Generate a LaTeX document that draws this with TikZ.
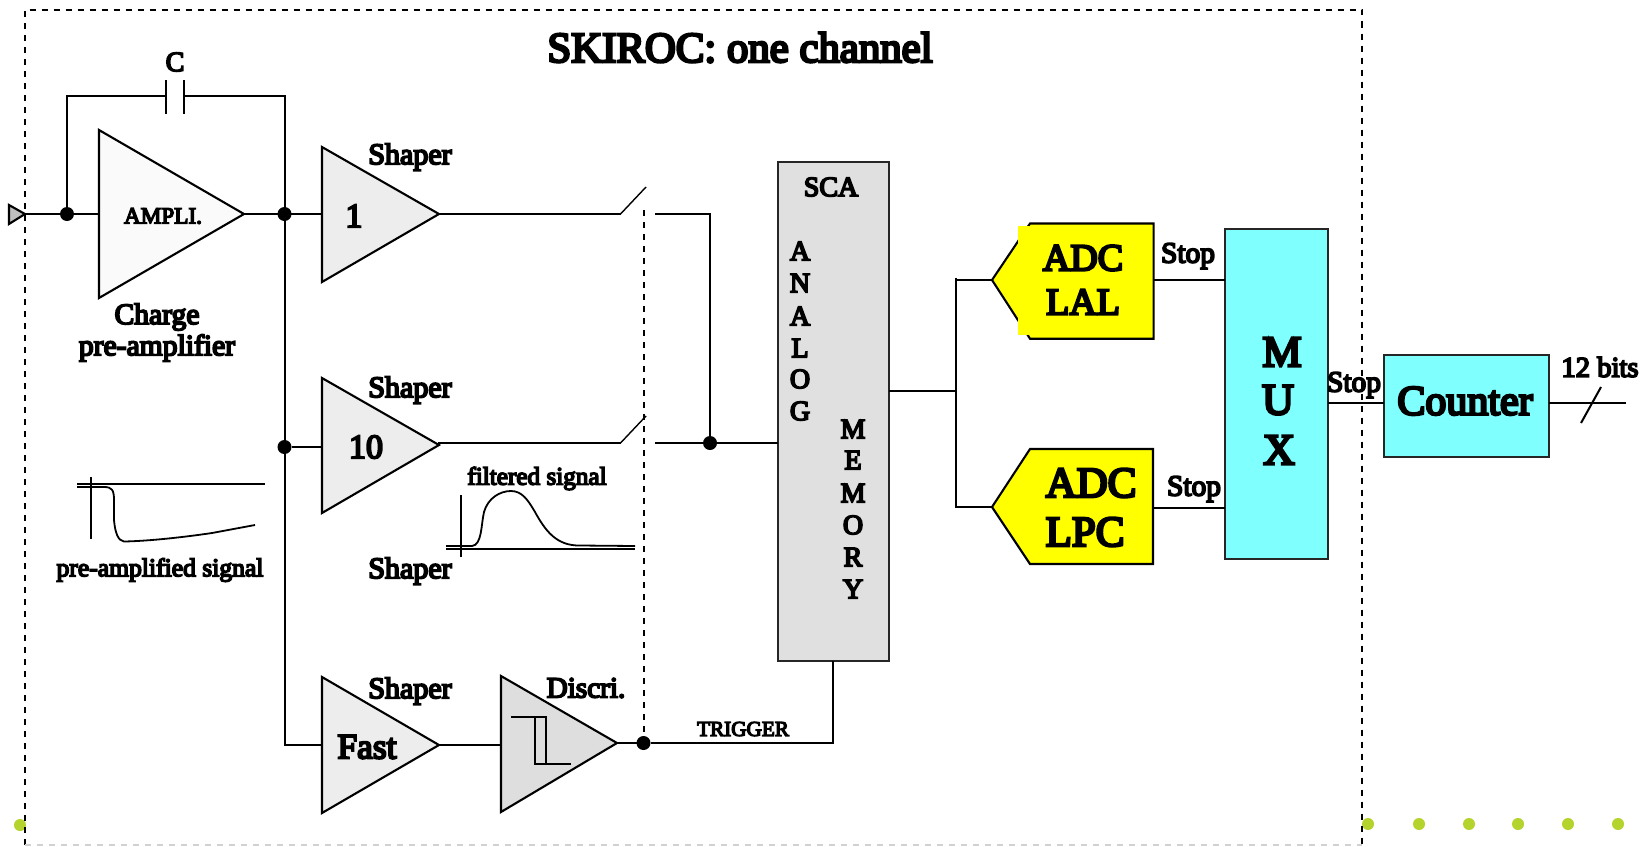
\documentclass[tikz,border=0pt]{standalone}
\usepackage{fontspec}
\setmainfont{Liberation Serif}
\newfontfamily\lbl{Liberation Serif}[RawFeature={embolden=6}]
\newcommand{\fs}[1]{\lbl\fontsize{#1}{#1}\selectfont}
\tikzset{
  x=0.5pt,y=-0.5pt,
  wire/.style={draw=black,line width=1pt,line join=miter},
  frameline/.style={draw=black,line width=1pt,dash pattern=on 3pt off 3pt},
  tri/.style={draw=black,line width=1.05pt,line join=miter},
  dotn/.style={circle,fill=black,inner sep=0pt,minimum size=7pt,outer sep=0pt},
  box/.style={draw=black!85,line width=1pt,inner sep=0pt,outer sep=0pt},
  lab/.style={inner sep=0pt,outer sep=0pt,text=black},
  pagedot/.style={circle,fill=dotgreen,inner sep=0pt,minimum size=6pt},
}
\definecolor{dotgreen}{HTML}{B4D32C}
\definecolor{adcyellow}{HTML}{FFFF00}
\definecolor{muxcyan}{HTML}{80FFFF}
\begin{document}
\begin{tikzpicture}
\useasboundingbox (0,0) rectangle (1652,846);
\fill[white] (0,0) rectangle (1652,846);
% slide dots
\node[pagedot] (pd0) at (20,825) {};
\node[pagedot] (pd1) at (1368,824) {};
\node[pagedot] (pd2) at (1419,824) {};
\node[pagedot] (pd3) at (1469,824) {};
\node[pagedot] (pd4) at (1518,824) {};
\node[pagedot] (pd5) at (1568,824) {};
\node[pagedot] (pd6) at (1618,824) {};
% frame
\coordinate (fTL) at (24.5,10);
\coordinate (fTR) at (1362,10);
\coordinate (fBR) at (1362,845);
\coordinate (fBL) at (24.5,845);
\draw[frameline] (fBL) -- (fTL) -- (fTR) -- (fBR);
\draw[draw=black!18,line width=0.7pt,dash pattern=on 3pt off 3pt] (fBL) -- (fBR);
% triangle vertices
\coordinate (inA) at (9,205); \coordinate (inB) at (9,224); \coordinate (inT) at (25,214);
\coordinate (ampA) at (99,130); \coordinate (ampB) at (99,298); \coordinate (ampT) at (244,214);
\coordinate (ampI) at (99,214);
\coordinate (s1A) at (322,147); \coordinate (s1B) at (322,282); \coordinate (s1T) at (439,214);
\coordinate (s1I) at (322,214);
\coordinate (s2A) at (322,378); \coordinate (s2B) at (322,513); \coordinate (s2T) at (439,445);
\coordinate (s2I) at (322,447);
\coordinate (s3A) at (322,677); \coordinate (s3B) at (322,813); \coordinate (s3T) at (439,745);
\coordinate (s3I) at (322,745);
\coordinate (dA) at (501,676); \coordinate (dB) at (501,812); \coordinate (dT) at (617,743);
\coordinate (dI) at (501,745);
\node[dotn] (jIn) at (67,214) {};
\node[dotn] (jOut) at (284.5,214) {};
\node[dotn] (jS2) at (284.5,447) {};
\node[dotn] (jD) at (643.5,743) {};
\node[dotn] (jM) at (710,443) {};
% feedback and capacitor
\coordinate (fbL) at (67,96); \coordinate (capL) at (166,96); \coordinate (capR) at (184,96);
\coordinate (fbR) at (284.5,96); \coordinate (fbB) at (284.5,745);
\coordinate (capLa) at (166,80); \coordinate (capLb) at (166,114);
\coordinate (capRa) at (184,80); \coordinate (capRb) at (184,114);
\draw[wire] (jIn.center) -- (fbL) -- (capL);
\draw[wire] (capR) -- (fbR) -- (fbB) -- (s3I);
\draw[wire] (capLa) -- (capLb);
\draw[wire] (capRa) -- (capRb);
\draw[wire] (inT) -- (ampI);
\draw[wire] (ampT) -- (s1I);
\draw[wire] (jS2) -- (s2I);
% amplifiers
\filldraw[tri,fill=black!25] (inA) -- (inB) -- (inT) -- cycle;
\filldraw[tri,fill=black!2] (ampA) -- (ampB) -- (ampT) -- cycle;
\filldraw[tri,fill=black!7] (s1A) -- (s1B) -- (s1T) -- cycle;
\filldraw[tri,fill=black!7] (s2A) -- (s2B) -- (s2T) -- cycle;
\filldraw[tri,fill=black!7] (s3A) -- (s3B) -- (s3T) -- cycle;
\filldraw[tri,fill=black!13] (dA) -- (dB) -- (dT) -- cycle;
\draw[wire] (s3T) -- (dI);
% switches
\coordinate (sw1a) at (620.5,214); \coordinate (sw1b) at (646,187);
\coordinate (sw1c) at (655,214); \coordinate (sw1d) at (710,214);
\coordinate (sw2a) at (620.5,443); \coordinate (sw2b) at (646,416);
\coordinate (sw2c) at (655,443);
\draw[wire] (s1T) -- (sw1a);
\draw[wire,line width=0.7pt] (sw1a) -- (sw1b);
\draw[wire] (s2T) -- (439,443) -- (sw2a);
\draw[wire,line width=0.7pt] (sw2a) -- (sw2b);
\draw[wire] (sw1c) -- (sw1d) -- (jM.center);
\coordinate (swTop) at (643.5,210);
\draw[frameline] (swTop) -- (jD);
% SCA
\node[box,fill=black!12,minimum width=55.5pt,minimum height=249.5pt] (sca) at (833.5,411.3) {};
\draw[wire] (sw2c) -- (sw2c -| sca.west);
\coordinate (trigC) at (833,743);
\draw[wire] (dT) -- (jD) -- (trigC) -- (trigC |- sca.south);
% splitter + ADC
\coordinate (spT) at (955.5,278); \coordinate (spM) at (955.5,391); \coordinate (spB) at (955.5,507);
\coordinate (aT) at (992,280); \coordinate (aA) at (1030,223.5); \coordinate (aB) at (1153.6,223.5);
\coordinate (aC) at (1153.6,338.7); \coordinate (aD) at (1030,338.7);
\coordinate (lT) at (992,507); \coordinate (lA) at (1030,449); \coordinate (lB) at (1153,449);
\coordinate (lC) at (1153,564); \coordinate (lD) at (1030,564);
\filldraw[tri,fill=adcyellow] (aT) -- (aA) -- (aB) -- (aC) -- (aD) -- cycle;
\fill[adcyellow] (1018,226) rectangle (1036,335);
\filldraw[tri,fill=adcyellow] (lT) -- (lA) -- (lB) -- (lC) -- (lD) -- cycle;
\draw[wire] (spM -| sca.east) -- (spM);
\draw[wire] (spT) -- (spB) -- (lT);
\draw[wire] (955.5,280) -- (aT);
% MUX and counter
\node[box,fill=muxcyan,minimum width=51.5pt,minimum height=165pt] (mux) at (1276,394) {};
\node[box,fill=muxcyan,minimum width=82.7pt,minimum height=51pt] (cnt) at (1466.3,406) {};
\coordinate (aOut) at (1153.6,280); \coordinate (lOut) at (1153,508);
\draw[wire] (aOut) -- (aOut -| mux.west);
\draw[wire] (lOut) -- (lOut -| mux.west);
\coordinate (cIn) at (1383.6,403); \coordinate (cOut) at (1549,403); \coordinate (cEnd) at (1626,403);
\draw[wire] (cIn -| mux.east) -- (cIn);
\draw[wire] (cOut) -- (cEnd);
\coordinate (slA) at (1601,387); \coordinate (slB) at (1581,423);
\draw[wire] (slA) -- (slB);
% discriminator symbol
\coordinate (h1) at (511,717); \coordinate (h2) at (546,717); \coordinate (h3) at (546,764); \coordinate (h4) at (571,764);
\coordinate (h5) at (535,717); \coordinate (h6) at (535,764);
\draw[wire,line width=0.85pt] (h1) -- (h2) -- (h3) -- (h4);
\draw[wire,line width=0.85pt] (h5) -- (h6) -- (h3);
% pre-amplified signal sketch
\coordinate (pa) at (77,484); \coordinate (pb) at (265,484);
\coordinate (pc) at (91,477); \coordinate (pd) at (91,539);
\draw[wire] (pa) -- (pb);
\draw[wire] (pc) -- (pd);
\draw[wire,line width=0.9pt] (77,487) -- (104,487) .. controls (112,487) and (114,490) .. (114,500)
  -- (114,520) .. controls (115,532) and (118,541) .. (124,541.5)
  .. controls (150,541) and (185,537) .. (212,533) -- (255,525);
% filtered signal sketch
\coordinate (fa) at (446,549); \coordinate (fb) at (635,549);
\coordinate (fc) at (461,495); \coordinate (fd) at (461,557);
\draw[wire] (fa) -- (fb);
\draw[wire] (fc) -- (fd);
\draw[wire,line width=0.9pt] (446,546) -- (472,546) .. controls (482,545) and (481,525) .. (484,512)
  .. controls (488,498) and (500,491) .. (511,491)
  .. controls (522,491) and (528,500) .. (535,512)
  .. controls (545,530) and (556,546) .. (580,545.5) -- (635,546);
% labels
\node[lab,font=\fs{21.4}] (t0) at (740,47.5) {SKIROC: one channel};
\node[lab,font=\fs{14}] (t1) at (175,62) {C};
\node[lab,font=\fs{11.6}] (t2) at (163,216) {AMPLI.};
\node[lab,font=\fs{14.8}] (t3) at (157,317) {Charge};
\node[lab,font=\fs{14.8}] (t4) at (157,348) {pre-amplifier};
\node[lab,font=\fs{15}] (t5) at (410,157) {Shaper};
\node[lab,font=\fs{15}] (t6) at (410,390) {Shaper};
\node[lab,font=\fs{15}] (t7) at (410,571) {Shaper};
\node[lab,font=\fs{15}] (t8) at (410,691) {Shaper};
\node[lab,font=\fs{17}] (t9) at (354,216) {1};
\node[lab,font=\fs{17}] (t10) at (366,447) {10};
\node[lab,font=\fs{17.7}] (t11) at (367,747) {Fast};
\node[lab,font=\fs{14.6}] (t12) at (586,688) {Discri.};
\node[lab,font=\fs{12.8}] (t13) at (160,570) {pre-amplified signal};
\node[lab,font=\fs{12.6}] (t14) at (537,478.5) {filtered signal};
\node[lab,font=\fs{10.6}] (t15) at (743,729) {TRIGGER};
\node[lab,font=\fs{14}] (t16) at (831,187) {SCA};
\node[lab,font=\fs{14}] (a1) at (800,251) {A};
\node[lab,font=\fs{14}] (a2) at (800,283) {N};
\node[lab,font=\fs{14}] (a3) at (800,316) {A};
\node[lab,font=\fs{14}] (a4) at (800,348) {L};
\node[lab,font=\fs{14}] (a5) at (800,379) {O};
\node[lab,font=\fs{14}] (a6) at (800,411) {G};
\node[lab,font=\fs{14}] (m1) at (853,429) {M};
\node[lab,font=\fs{14}] (m2) at (853,460) {E};
\node[lab,font=\fs{14}] (m3) at (853,493) {M};
\node[lab,font=\fs{14}] (m4) at (853,525) {O};
\node[lab,font=\fs{14}] (m5) at (853,557) {R};
\node[lab,font=\fs{14}] (m6) at (853,589) {Y};
\node[lab,font=\fs{19}] (t17) at (1083,258) {ADC};
\node[lab,font=\fs{19}] (t18) at (1083,302) {LAL};
\node[lab,font=\fs{21.5}] (t19) at (1091,483) {ADC};
\node[lab,font=\fs{21.5}] (t20) at (1085,532) {LPC};
\node[lab,font=\fs{14.7}] (t21) at (1188,256) {Stop};
\node[lab,font=\fs{14.7}] (t22) at (1194,489) {Stop};
\node[lab,font=\fs{14.7}] (t23) at (1354,385) {Stop};
\node[lab,font=\fs{22}] (t24) at (1282,352) {M};
\node[lab,font=\fs{22}] (t25) at (1278,400) {U};
\node[lab,font=\fs{22}] (t26) at (1279,450) {X};
\node[lab,font=\fs{21}] (t27) at (1465,401) {Counter};
\node[lab,font=\fs{14.3}] (t28) at (1600,367) {12 bits};
\end{tikzpicture}
\end{document}
